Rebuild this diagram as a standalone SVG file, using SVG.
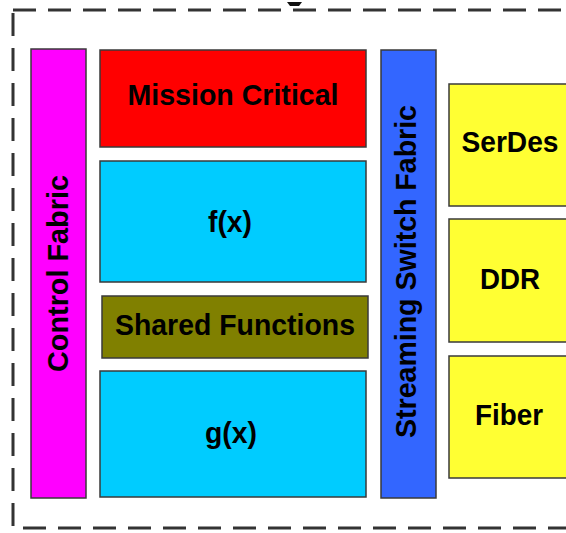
<svg xmlns="http://www.w3.org/2000/svg" width="566" height="533" viewBox="0 0 566 533">
<style>
.box{stroke:#3a3a3a;stroke-width:1.5}
.t{font-family:"Liberation Sans",Arial,sans-serif;font-weight:bold;font-size:30px;fill:#000;text-anchor:middle}
</style>
<rect width="566" height="533" fill="#fff"/>
<g id="frame">
<rect x="13" y="10" width="580" height="518" fill="none" stroke="#333" stroke-width="3" stroke-dasharray="23 12"/>
<path d="M287 2 L302 2 L299 6 L290 6 Z" fill="#111"/>
</g>
<g id="control-fabric">
<rect class="box" x="31" y="49" width="55" height="449" fill="#FF00FF"/>
<text class="t" transform="translate(68,273.5) rotate(-90)" textLength="197" lengthAdjust="spacingAndGlyphs">Control Fabric</text>
</g>
<g id="mission-critical">
<rect class="box" x="100" y="50" width="266" height="97" fill="#FF0000"/>
<text class="t" x="233" y="105" textLength="211" lengthAdjust="spacingAndGlyphs">Mission Critical</text>
</g>
<g id="fx">
<rect class="box" x="100" y="161" width="266" height="121" fill="#00CCFF"/>
<text class="t" x="230" y="232" textLength="44" lengthAdjust="spacingAndGlyphs">f(x)</text>
</g>
<g id="shared-functions">
<rect class="box" x="102" y="296" width="266" height="62" fill="#808000"/>
<text class="t" x="235" y="335" textLength="240" lengthAdjust="spacingAndGlyphs">Shared Functions</text>
</g>
<g id="gx">
<rect class="box" x="100" y="371" width="266" height="126" fill="#00CCFF"/>
<text class="t" x="231" y="443" textLength="52" lengthAdjust="spacingAndGlyphs">g(x)</text>
</g>
<g id="streaming-switch-fabric">
<rect class="box" x="381" y="50" width="55" height="448" fill="#3366FF"/>
<text class="t" transform="translate(416,271.5) rotate(-90)" textLength="333" lengthAdjust="spacingAndGlyphs">Streaming Switch Fabric</text>
</g>
<g id="serdes">
<rect class="box" x="449" y="84" width="140" height="122" fill="#FFFF33"/>
<text class="t" x="510" y="151.5" textLength="97" lengthAdjust="spacingAndGlyphs">SerDes</text>
</g>
<g id="ddr">
<rect class="box" x="449" y="219" width="140" height="123" fill="#FFFF33"/>
<text class="t" x="510" y="288.5" textLength="60" lengthAdjust="spacingAndGlyphs">DDR</text>
</g>
<g id="fiber">
<rect class="box" x="449" y="356" width="140" height="122" fill="#FFFF33"/>
<text class="t" x="509" y="425" textLength="68" lengthAdjust="spacingAndGlyphs">Fiber</text>
</g>
<g id="connectors"></g>
</svg>
